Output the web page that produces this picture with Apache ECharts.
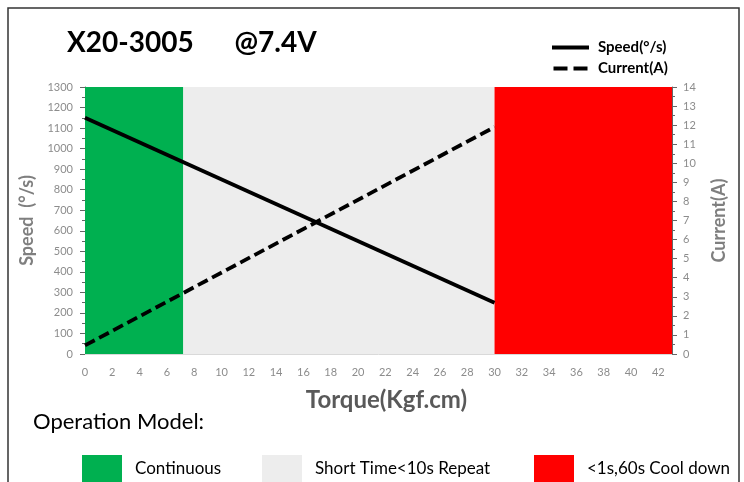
<!DOCTYPE html>
<html><head><meta charset="utf-8">
<script src="https://cdn.jsdelivr.net/npm/echarts@6/dist/echarts.min.js"></script>
<style>html,body{margin:0;padding:0;background:#fff}#c{width:744px;height:482px}</style>
</head><body><div id="c"></div>
<script>
var torque = [0, 30];
var speed = [1150, 250];
var current = [0.45, 11.9];
var zoneNames = ['Continuous', 'Short Time<10s Repeat', '<1s,60s Cool down'];
var zoneStart = [0, 7.2, 30];
var zoneEnd = [7.2, 30, 43];
var zoneColors = ['#00B050', '#EDEDED', '#FF0000'];
var xMax = 43;

var font = 'Lato, "Open Sans", sans-serif';
var chart = echarts.init(document.getElementById('c'));
var series = [];
zoneNames.forEach(function (n, i) {
  series.push({
    name: n, type: 'line', data: [], symbol: 'none', silent: true,
    itemStyle: { color: zoneColors[i] }, lineStyle: { color: zoneColors[i] },
    markArea: { silent: true, itemStyle: { color: zoneColors[i], opacity: 1 },
      data: [[{ xAxis: zoneStart[i] }, { xAxis: zoneEnd[i] }]] }
  });
});
series.push({
  name: 'Speed(°/s)', type: 'line', yAxisIndex: 0, symbol: 'none', z: 5,
  data: torque.map(function (t, i) { return [t, speed[i]]; }),
  lineStyle: { color: '#000', width: 3.8 }, itemStyle: { color: '#000' }
});
series.push({
  name: 'Current(A)', type: 'line', yAxisIndex: 1, symbol: 'none', z: 5,
  data: torque.map(function (t, i) { return [t, current[i]]; }),
  lineStyle: { color: '#000', width: 3.8, type: [11, 5] }, itemStyle: { color: '#000' }
});

var zoneLeft = [82, 262, 534];
var legends = [
  { data: [
      { name: 'Speed(°/s)', icon: 'rect' },
      { name: 'Current(A)', icon: 'path://M0,0h14v4h-14z M20,0h14v4h-14z' }
    ],
    orient: 'vertical', left: 552, top: 40, padding: 0,
    itemWidth: 37, itemHeight: 4, itemGap: 6,
    textStyle: { fontFamily: font, fontSize: 15, fontWeight: 'bold', color: '#000', padding: [0, 0, 0, 4] } }
];
zoneNames.forEach(function (n, i) {
  legends.push({ data: [n], left: zoneLeft[i], top: 455, padding: 0, icon: 'rect',
    itemWidth: 40, itemHeight: 27,
    textStyle: { fontFamily: font, fontSize: 17, color: '#000', padding: [0, 0, 0, 8] } });
});

chart.setOption({
  animation: false,
  textStyle: { fontFamily: font },
  title: { text: 'X20-3005      @7.4V', left: 67, top: 29, padding: 0,
    textStyle: { fontFamily: font, fontSize: 28, fontWeight: 'bold', color: '#000' } },
  graphic: [
    { type: 'rect', shape: { x: 8, y: 8, width: 731, height: 480 },
      style: { fill: 'none', stroke: '#333', lineWidth: 1.5 } },
    { type: 'text', left: 33, top: 411,
      style: { text: 'Operation Model:', fontFamily: font, fontSize: 22, fill: '#000' } }
  ],
  legend: legends,
  grid: { left: 85, right: 72, top: 87, bottom: 128 },
  xAxis: {
    type: 'value', min: 0, max: xMax, interval: 2,
    name: 'Torque(Kgf.cm)', nameLocation: 'middle', nameGap: 34,
    nameTextStyle: { fontFamily: font, fontSize: 24, fontWeight: 'bold', color: '#595959',
      padding: [0, 0, 0, 16] },
    axisLine: { lineStyle: { color: '#d9d9d9' } },
    axisTick: { show: false },
    splitLine: { show: false },
    axisLabel: { color: '#8c8c8c', fontSize: 11, margin: 13, showMaxLabel: false,
      formatter: function (v) { return (v % 2 === 0) ? String(v) : ''; } }
  },
  yAxis: [
    { type: 'value', min: 0, max: 1300, interval: 100,
      name: 'Speed  (°/s)', nameLocation: 'middle', nameGap: 47, nameRotate: 90,
      nameTextStyle: { fontFamily: font, fontSize: 18, fontWeight: 'bold', color: '#7f7f7f' },
      axisLine: { show: true, lineStyle: { color: '#666' } },
      axisTick: { show: true, length: 5, lineStyle: { color: '#666' } },
      minorTick: { show: true, splitNumber: 2, length: 3, lineStyle: { color: '#666' } },
      splitLine: { show: false },
      axisLabel: { color: '#8c8c8c', fontSize: 11, margin: 12,
        formatter: function (v) { return String(v); } } },
    { type: 'value', min: 0, max: 14, interval: 1, position: 'right',
      name: 'Current(A)', nameLocation: 'middle', nameGap: 38, nameRotate: 90,
      nameTextStyle: { fontFamily: font, fontSize: 18, fontWeight: 'bold', color: '#7f7f7f' },
      axisLine: { show: true, lineStyle: { color: '#666' } },
      axisTick: { show: true, length: 5, lineStyle: { color: '#666' } },
      minorTick: { show: true, splitNumber: 2, length: 3, lineStyle: { color: '#666' } },
      splitLine: { show: false },
      axisLabel: { color: '#8c8c8c', fontSize: 11, margin: 11,
        formatter: function (v) { return String(v); } } }
  ],
  series: series
});
</script></body></html>
